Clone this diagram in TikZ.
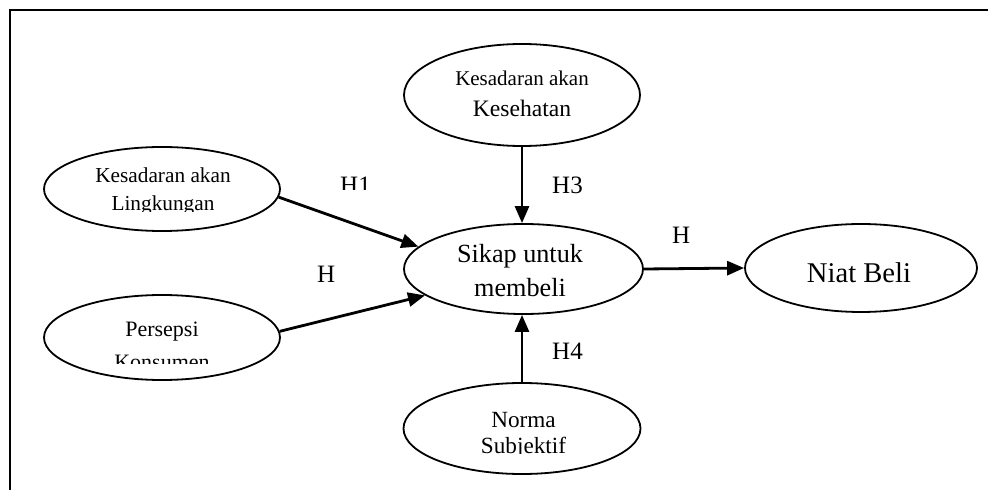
\documentclass[tikz,border=0pt]{standalone}
\usepackage{fontspec}
\setmainfont{Liberation Serif}
\usetikzlibrary{shapes.geometric,arrows.meta}
\newcommand{\fs}[1]{\fontsize{#1bp}{#1bp}\selectfont}
\tikzset{
  var/.style={draw, ellipse, line width=1.8bp, inner sep=0pt},
  txt/.style={anchor=base, inner sep=0pt},
  hyp/.style={anchor=base west, inner sep=0pt, font=\fs{25}},
  link/.style={line width=2.8bp, -{Triangle[length=17bp,width=14bp]}},
  frameline/.style={line width=2bp}
}
\begin{document}
\begin{tikzpicture}[x=1bp,y=-1bp]
\useasboundingbox (0,0) rectangle (988,490);
% frame (top and left only)
\coordinate (fa) at (10,490);
\coordinate (fb) at (10,10);
\coordinate (fc) at (988,10);
\draw[frameline] (fa) -- (fb) -- (fc);

% ellipses
\node[var, minimum width=236bp, minimum height=102bp] (K) at (522,95) {};
\node[var, minimum width=236bp, minimum height=84bp] (L) at (162,189) {};
\node[var, minimum width=236bp, minimum height=85bp] (P) at (162,337.5) {};
\node[var, minimum width=239bp, minimum height=90bp] (S) at (523.5,269) {};
\node[var, minimum width=232bp, minimum height=88bp] (B) at (861,268) {};
\node[var, minimum width=237bp, minimum height=91bp] (N) at (522,428.5) {};

% texts
\node[txt, font=\fs{21}] (k1) at (522,86) {Kesadaran akan};
\node[txt, font=\fs{23.6}] (k2) at (522,117) {Kesehatan};
\node[txt, font=\fs{21.3}] (l1) at (163,183) {Kesadaran akan};
\begin{scope}
  \clip (0,0) rectangle (988,212);
  \node[txt, font=\fs{21.3}] (l2) at (163,211) {Lingkungan};
\end{scope}
\node[txt, font=\fs{22}] (p1) at (162,337) {Persepsi};
\begin{scope}
  \clip (0,0) rectangle (988,363);
  \node[txt, font=\fs{22}] (p2) at (162,369.5) {Konsumen};
\end{scope}
\node[txt, font=\fs{26.2}] (s1) at (520,263) {Sikap untuk};
\node[txt, font=\fs{26.2}] (s2) at (520,297) {membeli};
\node[txt, font=\fs{28.6}] (b1) at (859,283) {Niat Beli};
\node[txt, font=\fs{23.2}] (n1) at (523.5,427) {Norma};
\begin{scope}
  \clip (0,0) rectangle (988,453.6);
  \node[txt, font=\fs{23.2}] (n2) at (523.5,453) {Subjektif};
\end{scope}

% hypothesis labels
\begin{scope}
  \clip (0,0) rectangle (988,190);
  \node[hyp] (h1) at (340,193.5) {H1};
\end{scope}
\node[hyp] (h2) at (317,283) {H};
\node[hyp] (h3) at (552,194) {H3};
\node[hyp] (h4) at (552,360) {H4};
\node[hyp] (h5) at (672,244) {H};

% connectors
\draw[link] (L.-4.9) -- (S.168.7);
\draw[link] (P.3.9) -- (S.195.6);
\draw[link] (K.south) -- (K.south |- S.north);
\draw[link] (N.north) -- (N.north |- S.south);
\draw[link] (S.east) -- (B.west);
\end{tikzpicture}
\end{document}
